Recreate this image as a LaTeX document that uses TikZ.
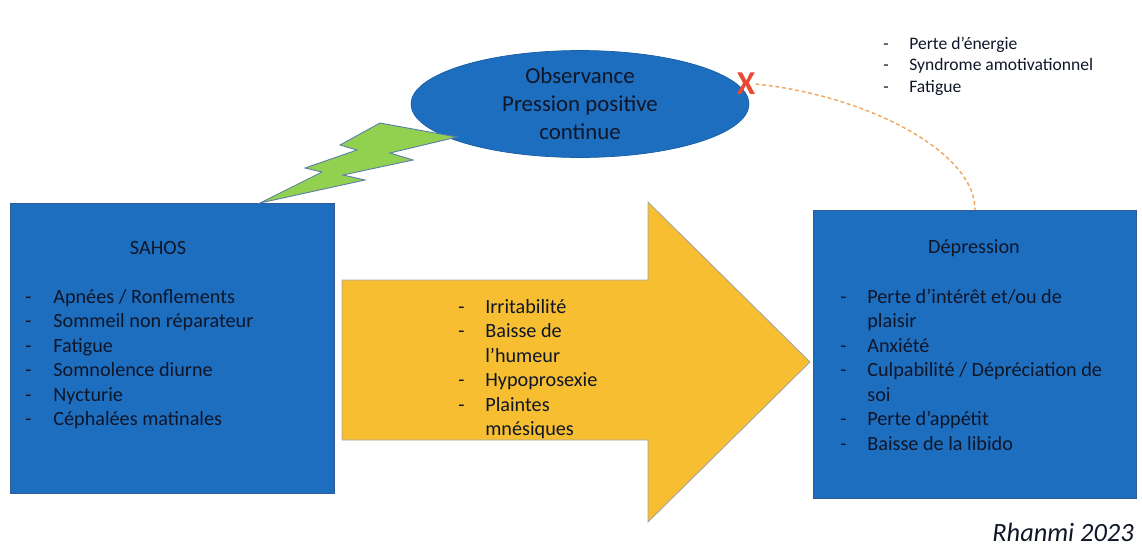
\documentclass[tikz,border=0pt]{standalone}
\usepackage{fontspec}
\setmainfont{Carlito}
\usepackage{tikz}
\usetikzlibrary{shapes.geometric}
\definecolor{boxblue}{RGB}{30,110,192}
\definecolor{boxedge}{RGB}{50,90,150}
\definecolor{arrowyellow}{RGB}{246,190,48}
\definecolor{boltgreen}{RGB}{146,208,80}
\definecolor{linkorange}{RGB}{240,165,95}
\definecolor{crossred}{RGB}{232,72,52}
\definecolor{ink}{RGB}{15,22,40}

\begin{document}
\begin{tikzpicture}[x=0.02cm,y=-0.02cm,
  symbox/.style={rectangle,draw=boxedge,fill=boxblue,line width=0.6pt,inner sep=0pt,anchor=north west},
  itemlist/.style={inner sep=0pt,anchor=base west,text=ink,font=\fontsize{11.5}{14}\selectfont},
  heading/.style={inner sep=0pt,text=ink,font=\fontsize{11.5}{14}\selectfont},
  dashlink/.style={draw=linkorange,line width=0.8pt,dash pattern=on 2.2pt off 1.6pt}]
  \useasboundingbox (0,0) rectangle (1142,548);

  % the two boxes
  \node [symbox,minimum width=6.48cm,minimum height=5.8cm] (sahos) at (10,203) {};
  \node [symbox,minimum width=6.46cm,minimum height=5.76cm] (dep) at (813,210) {};

  % CPAP bubble
  \node [ellipse,fill=boxblue,draw=boxblue!85!black,line width=0.4pt,minimum width=6.76cm,minimum height=2.14cm,
         inner sep=0pt,align=center,text=ink,font=\fontsize{13}{16}\selectfont] (obs) at (580,104)
        {Observance\\Pression positive\\continue};

  % lightning
  \filldraw [fill=boltgreen,draw=boxedge!80,line width=0.5pt]
    (260,203) -- (322,172) -- (305,168) -- (357,150) -- (340,145) -- (380,123) -- (457,137)
    -- (390,153) -- (413,160) -- (343,175) -- (365,180) -- cycle;

  % big arrow
  \filldraw [fill=arrowyellow,draw=gray!70,line width=0.5pt]
    (342,280) -- (648,280) -- (648,202) -- (810,362) -- (648,522) -- (648,440) -- (342,440) -- cycle;

  \node [heading] (sahostitle) at (158,248) {SAHOS};
  \node [itemlist] (sahoslist) at (25,303) {\begin{tabular}[t]{@{}p{0.56cm}@{}l@{}}
    - & Apnées / Ronflements\\
    - & Sommeil non réparateur\\
    - & Fatigue\\
    - & Somnolence diurne\\
    - & Nycturie\\
    - & Céphalées matinales
  \end{tabular}};

  \node [heading] (deptitle) at (974,248) {Dépression};
  \node [itemlist] (deplist) at (840,303) {\begin{tabular}[t]{@{}p{0.54cm}@{}l@{}}
    - & Perte d’intérêt et/ou de\\
      & plaisir\\
    - & Anxiété\\
    - & Culpabilité / Dépréciation de\\
      & soi\\
    - & Perte d’appétit\\
    - & Baisse de la libido
  \end{tabular}};

  \node [itemlist] (humeur) at (458,313) {\begin{tabular}[t]{@{}p{0.54cm}@{}l@{}}
    - & Irritabilité\\
    - & Baisse de\\
      & l’humeur\\
    - & Hypoprosexie\\
    - & Plaintes\\
      & mnésiques
  \end{tabular}};

  \node [itemlist,font=\fontsize{10}{12.5}\selectfont] (effets) at (883,49) {\begin{tabular}[t]{@{}p{0.52cm}@{}l@{}}
    - & Perte d’énergie\\
    - & Syndrome amotivationnel\\
    - & Fatigue
  \end{tabular}};

  % broken link
  \node [inner sep=0pt,text=crossred,font=\fontsize{19}{19}\selectfont\bfseries] (cross) at (746,84) {X};
  \path [dashlink] (cross.east) .. controls +(108,11) and +(0,-60) .. (dep.north);

  \node [inner sep=0pt,anchor=base east,text=ink,font=\fontsize{15}{16}\selectfont\itshape] (sign) at (1134,541) {Rhanmi 2023};
\end{tikzpicture}
\end{document}
